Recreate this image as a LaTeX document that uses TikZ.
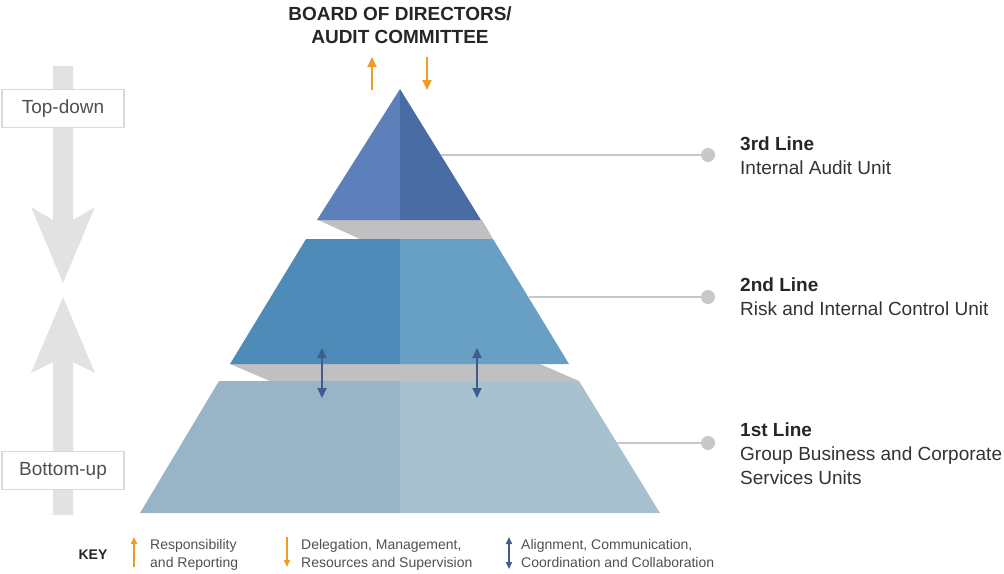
\documentclass[tikz,border=0pt]{standalone}
\usepackage{fontspec}
\setmainfont{Liberation Sans}
\usetikzlibrary{arrows.meta}
\definecolor{topL}{HTML}{5E80BA}
\definecolor{topR}{HTML}{4A6CA4}
\definecolor{midL}{HTML}{4E8BB8}
\definecolor{midR}{HTML}{67A0C4}
\definecolor{botL}{HTML}{98B4C7}
\definecolor{botR}{HTML}{A7C1CE}
\definecolor{band}{HTML}{C0C0C2}
\definecolor{flow}{HTML}{E2E2E2}
\definecolor{orng}{HTML}{F09A28}
\definecolor{navy}{HTML}{3F5C8E}
\definecolor{lead}{HTML}{C8C8C8}
\definecolor{ink}{HTML}{333333}
\definecolor{soft}{HTML}{505050}
\begin{document}
\begin{tikzpicture}[x=1pt,y=-1pt,
  body/.style={font=\fontsize{19}{23}\selectfont, text=ink, inner sep=0pt},
  head/.style={font=\fontsize{19}{23}\selectfont\bfseries, text=black!85, inner sep=0pt},
  keytext/.style={font=\fontsize{14}{17}\selectfont, text=soft, inner sep=0pt, anchor=base west},
  leader/.style={draw=lead, line width=2pt},
  dot/.style={circle, fill=lead, minimum size=14pt, inner sep=0pt},
  flowbox/.style={draw=black!15, line width=1.2pt, fill=white, minimum width=122pt, minimum height=38pt, inner sep=0pt, font=\fontsize{19}{23}\selectfont, text=soft},
  oarrow/.style={draw=orng, line width=2.2pt, -{Triangle[length=10pt,width=9pt]}},
  narrow/.style={draw=navy, line width=2pt, {Triangle[length=10pt,width=9pt]}-{Triangle[length=10pt,width=9pt]}},
  karrow/.style={draw=orng, line width=1.6pt, -{Triangle[length=7pt,width=6pt]}},
  kdarrow/.style={draw=navy, line width=1.6pt, {Triangle[length=7pt,width=6pt]}-{Triangle[length=7pt,width=6pt]}}]
\useasboundingbox (0,0) rectangle (1004,573);

% big flow arrows on the left
\fill[flow] (53,66) -- (73,66) -- (73,220) -- (95,207) -- (63,283) -- (31,207) -- (53,220) -- cycle;
\fill[flow] (63,297) -- (95,373) -- (73,362) -- (73,515) -- (53,515) -- (53,362) -- (31,373) -- cycle;
\node[flowbox] (td) at (63,108.5) {Top-down};
\node[flowbox] (bu) at (63,470.5) {Bottom-up};

% grey joints between the tiers
\fill[band] (318,220) -- (482,220) -- (493,239) -- (360,239) -- cycle;
\fill[band] (230,364) -- (540,364) -- (579,381) -- (270,381) -- cycle;

% bottom tier
\fill[botL] (219,381) -- (400,381) -- (400,513) -- (140,513) -- cycle;
\fill[botR] (400,381) -- (579,381) -- (660,513) -- (400,513) -- cycle;
% middle tier
\fill[midL] (306,239) -- (400,239) -- (400,364) -- (230,364) -- cycle;
\fill[midR] (400,239) -- (493,239) -- (569,364) -- (400,364) -- cycle;
% top tier
\fill[topL] (400,89) -- (400,220) -- (317,220) -- cycle;
\fill[topR] (400,89) -- (481,220) -- (400,220) -- cycle;

% alignment arrows between the lower tiers
\coordinate (a1t) at (322,348);
\coordinate (a1b) at (322,398);
\coordinate (a2t) at (477,348);
\coordinate (a2b) at (477,398);
\draw[narrow] (a1t) -- (a1b);
\draw[narrow] (a2t) -- (a2b);

% board label and its arrows
\node[head] (board) at (400,14) {BOARD OF DIRECTORS/};
\node[head] (audit) at (400,37) {AUDIT COMMITTEE};
\coordinate (upS) at (372,90);
\coordinate (upE) at (372,57);
\coordinate (dnS) at (427,57);
\coordinate (dnE) at (427,90);
\draw[oarrow] (upS) -- (upE);
\draw[oarrow] (dnS) -- (dnE);

% leaders to the line labels
\coordinate (e3) at (441,155);
\coordinate (e2) at (529,297);
\coordinate (e1) at (617,443);
\node[dot] (d3) at (708,155) {};
\node[dot] (d2) at (708,297) {};
\node[dot] (d1) at (708,443) {};
\draw[leader] (e3) -- (d3);
\draw[leader] (e2) -- (d2);
\draw[leader] (e1) -- (d1);

\node[head, anchor=base west] (l3a) at (740,150.7) {3rd Line};
\node[body, anchor=base west] (l3b) at (740,174) {Internal Audit Unit};
\node[head, anchor=base west] (l2a) at (740,291.7) {2nd Line};
\node[body, anchor=base west] (l2b) at (740,315) {Risk and Internal Control Unit};
\node[head, anchor=base west] (l1a) at (740,436.7) {1st Line};
\node[body, anchor=base west] (l1b) at (740,460.7) {Group Business and Corporate};
\node[body, anchor=base west] (l1c) at (740,484) {Services Units};

% key
\node[font=\fontsize{14}{17}\selectfont\bfseries, text=black!85, inner sep=0pt] (key) at (93,555) {KEY};
\coordinate (k1s) at (134,567);
\coordinate (k1e) at (134,537);
\draw[karrow] (k1s) -- (k1e);
\node[keytext] (k1a) at (150,549) {Responsibility};
\node[keytext] (k1b) at (150,567) {and Reporting};
\coordinate (k2s) at (287,537);
\coordinate (k2e) at (287,567);
\draw[karrow] (k2s) -- (k2e);
\node[keytext] (k2a) at (301,549) {Delegation, Management,};
\node[keytext] (k2b) at (301,567) {Resources and Supervision};
\coordinate (k3s) at (509,537);
\coordinate (k3e) at (509,569);
\draw[kdarrow] (k3s) -- (k3e);
\node[keytext] (k3a) at (521,549) {Alignment, Communication,};
\node[keytext] (k3b) at (521,567) {Coordination and Collaboration};
\end{tikzpicture}
\end{document}
